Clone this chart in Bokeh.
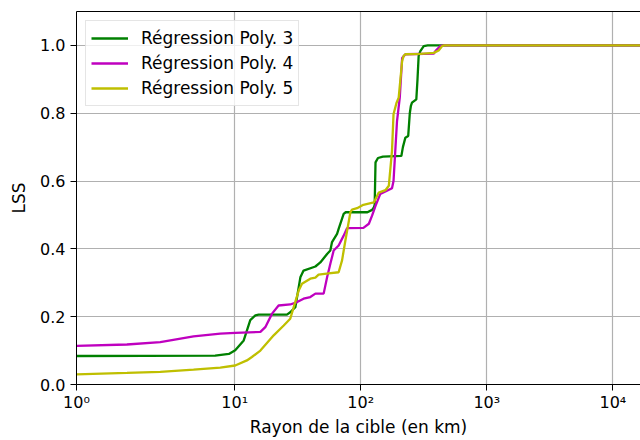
import numpy as np
from bokeh.plotting import figure
from bokeh.models import (ColumnDataSource, CustomJSTransform, CustomJSTickFormatter,
                          FixedTicker, LinearAxis, Range1d, PrintfTickFormatter)
from bokeh.transform import transform
from bokeh.embed import file_html
from bokeh.resources import INLINE

# ---------------- data ----------------
series_names = ["Régression Poly. 3", "Régression Poly. 4", "Régression Poly. 5"]

poly3_x = [1, 7, 9, 10.1, 11.8, 13.3, 14.6, 15.5, 26.0, 27.6, 30.3, 33.2, 35.2, 43.7, 47.8,
           54.1, 57.4, 59.2, 64.9, 66.8, 73.2, 76, 113, 123, 127, 129, 131, 137, 150, 210,
           216, 226, 238, 245, 250, 255, 276, 282, 288, 297, 316, 340, 20000]
poly3_y = [0.084, 0.085, 0.090, 0.101, 0.130, 0.190, 0.204, 0.206, 0.206, 0.213, 0.228,
           0.316, 0.336, 0.348, 0.360, 0.385, 0.395, 0.420, 0.444, 0.459, 0.503, 0.508,
           0.508, 0.515, 0.522, 0.530, 0.655, 0.668, 0.672, 0.674, 0.700, 0.728, 0.733,
           0.800, 0.822, 0.831, 0.841, 0.900, 0.969, 0.983, 0.998, 1.0, 1.0]

poly4_x = [1, 1.72, 2.57, 4.72, 7.69, 10.1, 16.0, 17.5, 19.8, 22.3, 27.6, 31.3, 35.2, 39.8,
           43.7, 50.8, 54.1, 57.4, 61.0, 66.8, 73.2, 77.9, 105, 116, 123, 131, 143, 157,
           177, 182, 194, 204, 213, 226, 380, 391, 428, 450, 20000]
poly4_y = [0.114, 0.118, 0.125, 0.142, 0.150, 0.152, 0.155, 0.169, 0.209, 0.233, 0.236,
           0.243, 0.253, 0.258, 0.268, 0.268, 0.316, 0.356, 0.395, 0.410, 0.439, 0.461,
           0.462, 0.474, 0.498, 0.527, 0.562, 0.569, 0.579, 0.600, 0.777, 0.846, 0.963,
           0.974, 0.976, 0.983, 0.998, 1.0, 1.0]

poly5_x = [1, 1.72, 2.57, 4.72, 7.69, 10.1, 12.5, 13.7, 16.0, 20.4, 24.5, 27.6, 29.4, 32.2,
           34.2, 39.8, 43.7, 46.3, 55.6, 66.8, 71.1, 75.5, 82.8, 85.3, 93.5, 105, 127, 139,
           157, 167, 177, 182, 192, 200, 213, 219, 226, 297, 379, 415, 442, 460, 20000]
poly5_y = [0.030, 0.034, 0.037, 0.044, 0.050, 0.056, 0.071, 0.081, 0.100, 0.145, 0.174,
           0.194, 0.228, 0.277, 0.297, 0.312, 0.315, 0.324, 0.328, 0.331, 0.366, 0.424,
           0.508, 0.516, 0.520, 0.530, 0.537, 0.566, 0.573, 0.586, 0.689, 0.797, 0.830,
           0.846, 0.954, 0.969, 0.974, 0.975, 0.978, 0.985, 0.998, 1.0, 1.0]

x_tick_values = [1, 10, 100, 1000, 10000]
y_tick_values = [0.0, 0.2, 0.4, 0.6, 0.8, 1.0]
x_limits = (1, 16560)
y_limits = (0.0, 1.1)

colors = ["#008000", "#bf00bf", "#bfbf00"]

# ---------------- symlog scale (matplotlib default: linthresh=2, linscale=1) -----------
LINTHRESH = 2.0
LINSCALE_ADJ = 1.0 / (1.0 - 1.0 / 10.0)


def symlog(v):
    if v <= LINTHRESH:
        return v * LINSCALE_ADJ
    return LINTHRESH * (LINSCALE_ADJ + np.log10(v / LINTHRESH))


symlog_js = CustomJSTransform(v_func="""
const L = 2.0, A = 1.0 / (1.0 - 1.0 / 10.0);
const out = new Array(xs.length);
for (let i = 0; i < xs.length; i++) {
  const v = xs[i];
  out[i] = v <= L ? v * A : L * (A + Math.log10(v / L));
}
return out;
""")

x_ticker = FixedTicker(ticks=[symlog(v) for v in x_tick_values])
y_ticker = FixedTicker(ticks=y_tick_values)

x_formatter = CustomJSTickFormatter(code="""
const L = 2.0, A = 1.0 / (1.0 - 1.0 / 10.0);
const v = tick <= L * A ? tick / A : L * Math.pow(10, tick / L - A);
const e = Math.round(Math.log10(v));
const sup = {"0": "\\u2070", "1": "\\u00b9", "2": "\\u00b2", "3": "\\u00b3", "4": "\\u2074",
             "5": "\\u2075", "6": "\\u2076", "7": "\\u2077", "8": "\\u2078", "9": "\\u2079",
             "-": "\\u207b"};
return "10" + String(e).split("").map(c => sup[c]).join("");
""")

FONT = "DejaVu Sans"

p = figure(width=640, height=440, output_backend="svg", toolbar_location=None,
           x_range=Range1d(symlog(x_limits[0]), symlog(x_limits[1])),
           y_range=Range1d(*y_limits),
           min_border_left=76, min_border_right=0, min_border_top=11, min_border_bottom=56)

p.outline_line_color = None
p.background_fill_color = "white"
p.border_fill_color = "white"

for xs, ys, name, col in zip([poly3_x, poly4_x, poly5_x], [poly3_y, poly4_y, poly5_y],
                             series_names, colors):
    src = ColumnDataSource(dict(x=xs, y=ys))
    p.line(x=transform("x", symlog_js), y="y", source=src, line_color=col,
           line_width=2.3, legend_label=name)

# axes
for ax in (p.xaxis[0], p.yaxis[0]):
    ax.axis_line_color = "black"
    ax.axis_line_width = 1
    ax.major_tick_line_color = "black"
    ax.major_tick_out = 6
    ax.major_tick_in = 0
    ax.minor_tick_line_color = None
    ax.major_label_text_font = FONT
    ax.major_label_text_font_size = "16px"
    ax.major_label_text_color = "black"
    ax.axis_label_text_font = FONT
    ax.axis_label_text_font_size = "17px"
    ax.axis_label_text_font_style = "normal"
    ax.axis_label_text_color = "black"

p.xaxis.ticker = x_ticker
p.xaxis.formatter = x_formatter
p.xaxis.axis_label = "Rayon de la cible (en km)"
p.xaxis.major_label_standoff = 2
p.xaxis.axis_label_standoff = 2

p.yaxis.ticker = y_ticker
p.yaxis.formatter = PrintfTickFormatter(format="%.1f")
p.yaxis.axis_label = "LSS"
p.yaxis.major_label_standoff = 5
p.yaxis.axis_label_standoff = 8

top_axis = LinearAxis(ticker=FixedTicker(ticks=[]), axis_line_color="black",
                      major_tick_line_color=None, minor_tick_line_color=None,
                      major_label_text_font_size="0px")
p.add_layout(top_axis, "above")

# grid
p.xgrid.ticker = x_ticker
p.ygrid.ticker = y_ticker
for g in (p.xgrid[0], p.ygrid[0]):
    g.grid_line_color = "#b0b0b0"
    g.grid_line_width = 1.2

# legend
lg = p.legend[0]
lg.location = "top_left"
lg.margin = 9
lg.padding = 5
lg.spacing = 1
lg.label_height = 24
lg.glyph_height = 24
lg.glyph_width = 37
lg.label_standoff = 13
lg.label_text_font = FONT
lg.label_text_font_size = "17px"
lg.label_text_color = "black"
lg.border_line_color = "#cccccc"
lg.border_line_width = 1
lg.background_fill_alpha = 0.8

with open("out.html", "w", encoding="utf-8") as f:
    f.write(file_html(p, INLINE))
